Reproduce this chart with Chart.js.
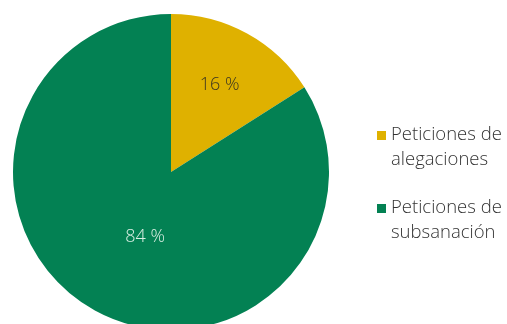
<!DOCTYPE html>
<html>
<head>
<meta charset="utf-8">
<script src="https://cdn.jsdelivr.net/npm/chart.js@4"></script>
<style>
  html, body { margin: 0; padding: 0; background: #fff; overflow: hidden; }
  #wrap { position: relative; width: 507px; height: 344px; }
</style>
</head>
<body>
<div id="wrap"><canvas id="chartCanvas" width="507" height="344"></canvas></div>
<script>
// categorías y valores (%)
const categories = [["Peticiones de", "alegaciones"], ["Peticiones de", "subsanación"]];
const values = [16, 84];
const valueLabels = ["16 %", "84 %"];
const colors = ["#DFB100", "#038153"];

// etiquetas dentro de los sectores
const sliceLabels = {
  id: "sliceLabels",
  afterDatasetsDraw(chart, args, opts) {
    const ctx = chart.ctx;
    const meta = chart.getDatasetMeta(0);
    ctx.save();
    ctx.font = opts.font;
    ctx.textAlign = "center";
    ctx.textBaseline = "middle";
    meta.data.forEach((arc, i) => {
      const p = arc.getProps(["x", "y", "startAngle", "endAngle", "outerRadius"], true);
      const pos = opts.pos[i];
      const a = (p.startAngle + p.endAngle) / 2 + pos.da * Math.PI / 180;
      const r = p.outerRadius * pos.f;
      ctx.fillStyle = opts.colors[i];
      ctx.fillText(valueLabels[i], p.x + Math.cos(a) * r, p.y + Math.sin(a) * r);
    });
    ctx.restore();
  },
};

// leyenda a la derecha
const sideLegend = {
  id: "sideLegend",
  afterDraw(chart, args, opts) {
    const ctx = chart.ctx;
    ctx.save();
    ctx.font = opts.font;
    ctx.textBaseline = "alphabetic";
    categories.forEach((lines, i) => {
      const y0 = opts.top[i];
      ctx.fillStyle = colors[i];
      ctx.fillRect(opts.boxX, y0 - 9, 9, 9);
      ctx.fillStyle = opts.color;
      lines.forEach((t, j) => ctx.fillText(t, opts.textX, y0 + j * opts.lineH));
    });
    ctx.restore();
  },
};

const chart = new Chart(document.getElementById("chartCanvas").getContext("2d"), {
  type: "pie",
  data: {
    labels: categories.map((c) => c.join(" ")),
    datasets: [{
      data: values,
      backgroundColor: colors,
      borderWidth: 0,
    }],
  },
  options: {
    responsive: false,
    animation: false,
    layout: { padding: { left: 13, top: 14, right: 178, bottom: 14 } },
    plugins: {
      legend: { display: false },
      tooltip: { enabled: false },
      sliceLabels: {
        font: "300 18px 'Open Sans'",
        colors: ["#3b3520", "#d9efe3"],
        pos: [{ f: 0.63, da: 0.5 }, { f: 0.44, da: -7 }],
      },
      sideLegend: {
        font: "300 18.5px 'Open Sans'",
        color: "#333333",
        boxX: 377,
        textX: 391,
        top: [140, 213],
        lineH: 25,
      },
    },
  },
  plugins: [sliceLabels, sideLegend],
});
</script>
</body>
</html>
